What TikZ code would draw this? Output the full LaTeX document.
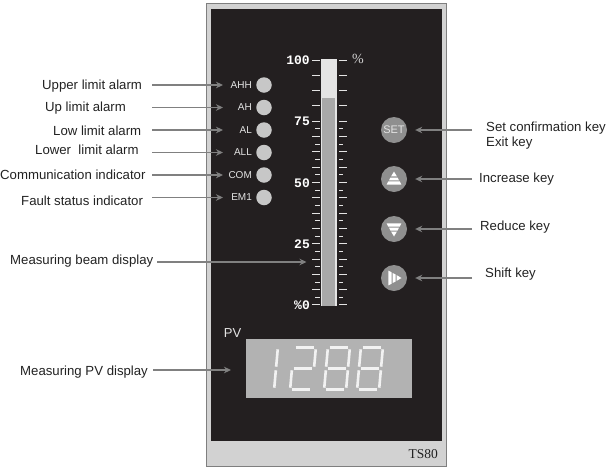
\documentclass[tikz,border=0pt]{standalone}
\usepackage{fontspec}
\setmainfont{Liberation Sans}
\newfontfamily\scalefont{Liberation Mono}
\newfontfamily\tagfont{Liberation Serif}
\usetikzlibrary{positioning, arrows.meta, calc}
\definecolor{panelblack}{HTML}{231F20}
\definecolor{panelgrey}{HTML}{D2D2D2}
\definecolor{edgegrey}{HTML}{7F7F7F}
\definecolor{keygrey}{HTML}{8F8F8F}
\definecolor{beamgrey}{HTML}{A9A9A9}
\definecolor{inklight}{HTML}{E4E4E4}
\definecolor{leadgrey}{HTML}{808080}
\definecolor{inktext}{HTML}{222222}

\begin{document}
\begin{tikzpicture}[
            x=1pt, y=-1pt,
            callout/.style={inner sep=0pt, yshift=-1pt, text=inktext, font=\fontsize{13.2}{15}\selectfont},
            arrow/.style={-{Stealth[length=7pt, width=6.5pt]}, draw=leadgrey, line width=1.1pt},
            led/.style={circle, fill=panelgrey!95!black, minimum size=15.5pt, inner sep=0pt},
            ledtext/.style={text=inklight, inner sep=0pt, font=\fontsize{10}{12}\selectfont},
            keybtn/.style={circle, fill=keygrey, minimum size=26pt, inner sep=0pt},
            scalenum/.style={anchor=east, inner sep=0pt, text=white, font=\scalefont\bfseries\fontsize{13}{13}\selectfont},
            tick/.style={draw=inklight, line width=1pt},
            seg/.style={draw=white!95!black, line width=2.6pt, shorten <=1.8pt, shorten >=1.8pt},
            stripes/.pic={
                \fill[white] (0,-7.5) -- (2.9,-2.6) -- (-2.9,-2.6) -- cycle;
                \fill[white] (-3.6,-1.5) -- (3.6,-1.5) -- (5,1.3) -- (-5,1.3) -- cycle;
                \fill[white] (-5.7,2.4) -- (5.7,2.4) -- (7.4,5.6) -- (-7.4,5.6) -- cycle;
            }
        ]
        \useasboundingbox (0,0) rectangle (608,472);

        % Panel
        \node[draw=edgegrey, line width=1.6pt, fill=panelgrey, minimum width=240pt, minimum height=463pt, inner sep=0pt] (panel) at (326.5,235) {};
        \node[fill=panelblack, minimum width=231pt, minimum height=432pt, inner sep=0pt] (face) at (326.5,225) {};
        \node[inner sep=0pt, anchor=east, text=inktext, font=\tagfont\fontsize{13.5}{14}\selectfont] (model) at (438,454) {TS80};

        % Alarm lamps
        \node[led, label={[ledtext, label distance=4pt]left:AHH}] (ahh) at (264,85) {};
        \node[led, label={[ledtext, label distance=4pt]left:AH}] (ah) at (264,107.5) {};
        \node[led, label={[ledtext, label distance=4pt]left:AL}] (al) at (264,130) {};
        \node[led, label={[ledtext, label distance=4pt]left:ALL}] (all) at (264,152.5) {};
        \node[led, label={[ledtext, label distance=4pt]left:COM}] (com) at (264,175) {};
        \node[led, label={[ledtext, label distance=4pt]left:EM1}] (em) at (264,197.5) {};

        % Bar and scale
        \node[fill=inklight, minimum width=16pt, minimum height=247pt, inner sep=0pt] (bar) at (329,182.5) {};
        \node[fill=beamgrey, minimum width=13.5pt, minimum height=208pt, inner sep=0pt] (beam) at (328.7,202) {};
        \foreach \i in {0,2,...,32} {
            \draw[tick] ({312},{60+7.656*\i}) -- ({319.5},{60+7.656*\i});
            \draw[tick] ({339},{60+7.656*\i}) -- ({347},{60+7.656*\i});
        }
        \foreach \i in {9,11,...,31} {
            \draw[tick] ({315},{60+7.656*\i}) -- ({319.5},{60+7.656*\i});
            \draw[tick] ({339},{60+7.656*\i}) -- ({343},{60+7.656*\i});
        }
        \node[scalenum] (s100) at (310,60) {100};
        \node[scalenum] (s75) at (310,121.5) {75};
        \node[scalenum] (s50) at (310,183) {50};
        \node[scalenum] (s25) at (310,244) {25};
        \node[scalenum] (s0) at (310,305) {\%0};
        \node[inner sep=0pt, text=panelgrey, font=\tagfont\fontsize{14}{14}\selectfont] (unit) at (358,59) {\%};

        % Keys
        \node[keybtn, text=inklight, font=\fontsize{11}{12}\selectfont] (setkey) at (394,130) {SET};
        \node[keybtn] (upkey) at (394,179) {};
        \node[keybtn] (downkey) at (394,229) {};
        \node[keybtn] (shiftkey) at (394,278) {};
        \pic at (upkey) {stripes};
        \pic[rotate=180] at (downkey) {stripes};
        \pic[rotate=-90] at (shiftkey) {stripes};

        % PV display
        \node[inner sep=0pt, text=inklight, font=\fontsize{13}{14}\selectfont] (pv) at (232.5,333) {PV};
        \node[fill=beamgrey!90!white, minimum width=166pt, minimum height=59pt, inner sep=0pt] (display) at (329,368.5) {};
        \foreach \ox/\parts in {254/{b/d,d/f}, 292/{a/b,b/d,c/d,c/e,e/f}, 326/{a/b,a/c,b/d,c/d,c/e,d/f,e/f}, 359/{a/b,a/c,b/d,c/d,c/e,d/f,e/f}} {
            \begin{scope}[shift={(\ox,368.5)}, xslant=0.09]
                \coordinate (a) at (0,-21);
                \coordinate (b) at (22,-21);
                \coordinate (c) at (0,0);
                \coordinate (d) at (22,0);
                \coordinate (e) at (0,21);
                \coordinate (f) at (22,21);
                \foreach \p/\q in \parts {
                    \draw[seg] (\p) -- (\q);
                }
            \end{scope}
        }

        % Left callouts
        \node[callout, anchor=west] (upper) at (42,85) {Upper limit alarm};
        \node[callout, anchor=west] (up) at (45,107) {Up limit alarm};
        \node[callout, anchor=west] (low) at (53,130) {Low limit alarm};
        \node[callout, anchor=west] (lower) at (35,149) {Lower\ \ limit alarm};
        \node[callout, anchor=west] (comm) at (0,174) {Communication indicator};
        \node[callout, anchor=west] (fault) at (21,200) {Fault status indicator};
        \node[callout, anchor=west] (beamtxt) at (10,260) {Measuring beam display};
        \node[callout, anchor=west] (pvtxt) at (20,371) {Measuring PV display};

        \coordinate (startL) at (152,0);
        \coordinate (tipL) at (223,0);
        \draw[arrow] (startL |- ahh) -- (tipL |- ahh);
        \draw[arrow] (startL |- ah) -- (tipL |- ah);
        \draw[arrow] (startL |- al) -- (tipL |- al);
        \draw[arrow] (startL |- all) -- (tipL |- all);
        \draw[arrow] (startL |- com) -- (tipL |- com);
        \draw[arrow] (startL |- em) -- (tipL |- em);

        \coordinate (beamTip) at (306.5,262);
        \coordinate (pvTip) at (231,370);
        \draw[arrow] (beamtxt.east |- beamTip) ++(4,0) -- (beamTip);
        \draw[arrow] (pvtxt.east |- pvTip) ++(5,0) -- (pvTip);

        % Right callouts
        \node[callout, anchor=west] (settxt) at (486,127) {Set confirmation key};
        \node[callout, anchor=west] (exittxt) at (486,142) {Exit key};
        \node[callout, anchor=west] (inctxt) at (479,178) {Increase key};
        \node[callout, anchor=west] (redtxt) at (480,226) {Reduce key};
        \node[callout, anchor=west] (shifttxt) at (485,273) {Shift key};

        \coordinate (startR) at (472,0);
        \draw[arrow, shorten >=8pt] (startR |- setkey) -- (setkey.east);
        \draw[arrow, shorten >=8pt] (startR |- upkey) -- (upkey.east);
        \draw[arrow, shorten >=8pt] (startR |- downkey) -- (downkey.east);
        \draw[arrow, shorten >=8pt] (startR |- shiftkey) -- (shiftkey.east);

\end{tikzpicture}
\end{document}
